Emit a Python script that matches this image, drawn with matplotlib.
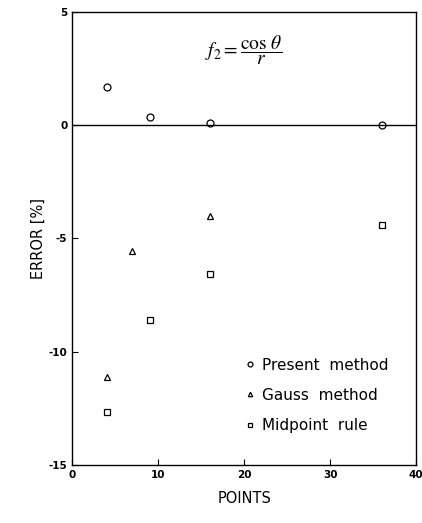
import matplotlib
matplotlib.use("Agg")
import matplotlib.pyplot as plt

# error [%] vs number of integration points
present_x = [4, 9, 16, 36]
present_y = [1.7, 0.35, 0.1, 0.0]
gauss_x = [4, 7, 16]
gauss_y = [-11.1, -5.55, -4.0]
midpoint_x = [4, 9, 16, 36]
midpoint_y = [-12.65, -8.6, -6.55, -4.4]

plt.rcParams['font.family'] = ['DejaVu Sans']
plt.rcParams['mathtext.fontset'] = 'stix'
plt.rcParams['axes.unicode_minus'] = False

fig = plt.figure(figsize=(4.22, 5.23), dpi=100)
ax = fig.add_axes([0.171, 0.111, 0.815, 0.866])

mk = dict(linestyle='none', markerfacecolor='white', markeredgecolor='black',
          markeredgewidth=0.9, color='black')
ax.plot(present_x, present_y, 'o', markersize=5, label='Present  method', **mk)
ax.plot(gauss_x, gauss_y, '^', markersize=4.5, label='Gauss  method', **mk)
ax.plot(midpoint_x, midpoint_y, 's', markersize=5, label='Midpoint  rule', **mk)

ax.axhline(0, color='black', linewidth=1.0)

ax.set_xlim(0, 40)
ax.set_ylim(-15, 5)
ax.set_xticks([0, 10, 20, 30, 40])
ax.set_yticks([-15, -10, -5, 0, 5])
ax.tick_params(direction='in', length=4, labelsize=7.5, width=0.8)
for lbl in ax.get_xticklabels() + ax.get_yticklabels():
    lbl.set_fontweight('bold')
for s in ax.spines.values():
    s.set_linewidth(1.0)

ax.set_xlabel('POINTS', fontsize=10.5, labelpad=8)
ax.set_ylabel('ERROR [%]', fontsize=10.5, labelpad=2)

ax.text(0.5, 0.915, r'$f_2 = \dfrac{\cos\,\theta}{r}$', transform=ax.transAxes,
        ha='center', va='center', fontsize=14)

leg = ax.legend(loc='lower right', frameon=False, fontsize=11,
                handletextpad=0.2, labelspacing=1.0, markerscale=0.7,
                handlelength=1.2, bbox_to_anchor=(0.96, 0.04))

fig.savefig('out.png', dpi=100)
